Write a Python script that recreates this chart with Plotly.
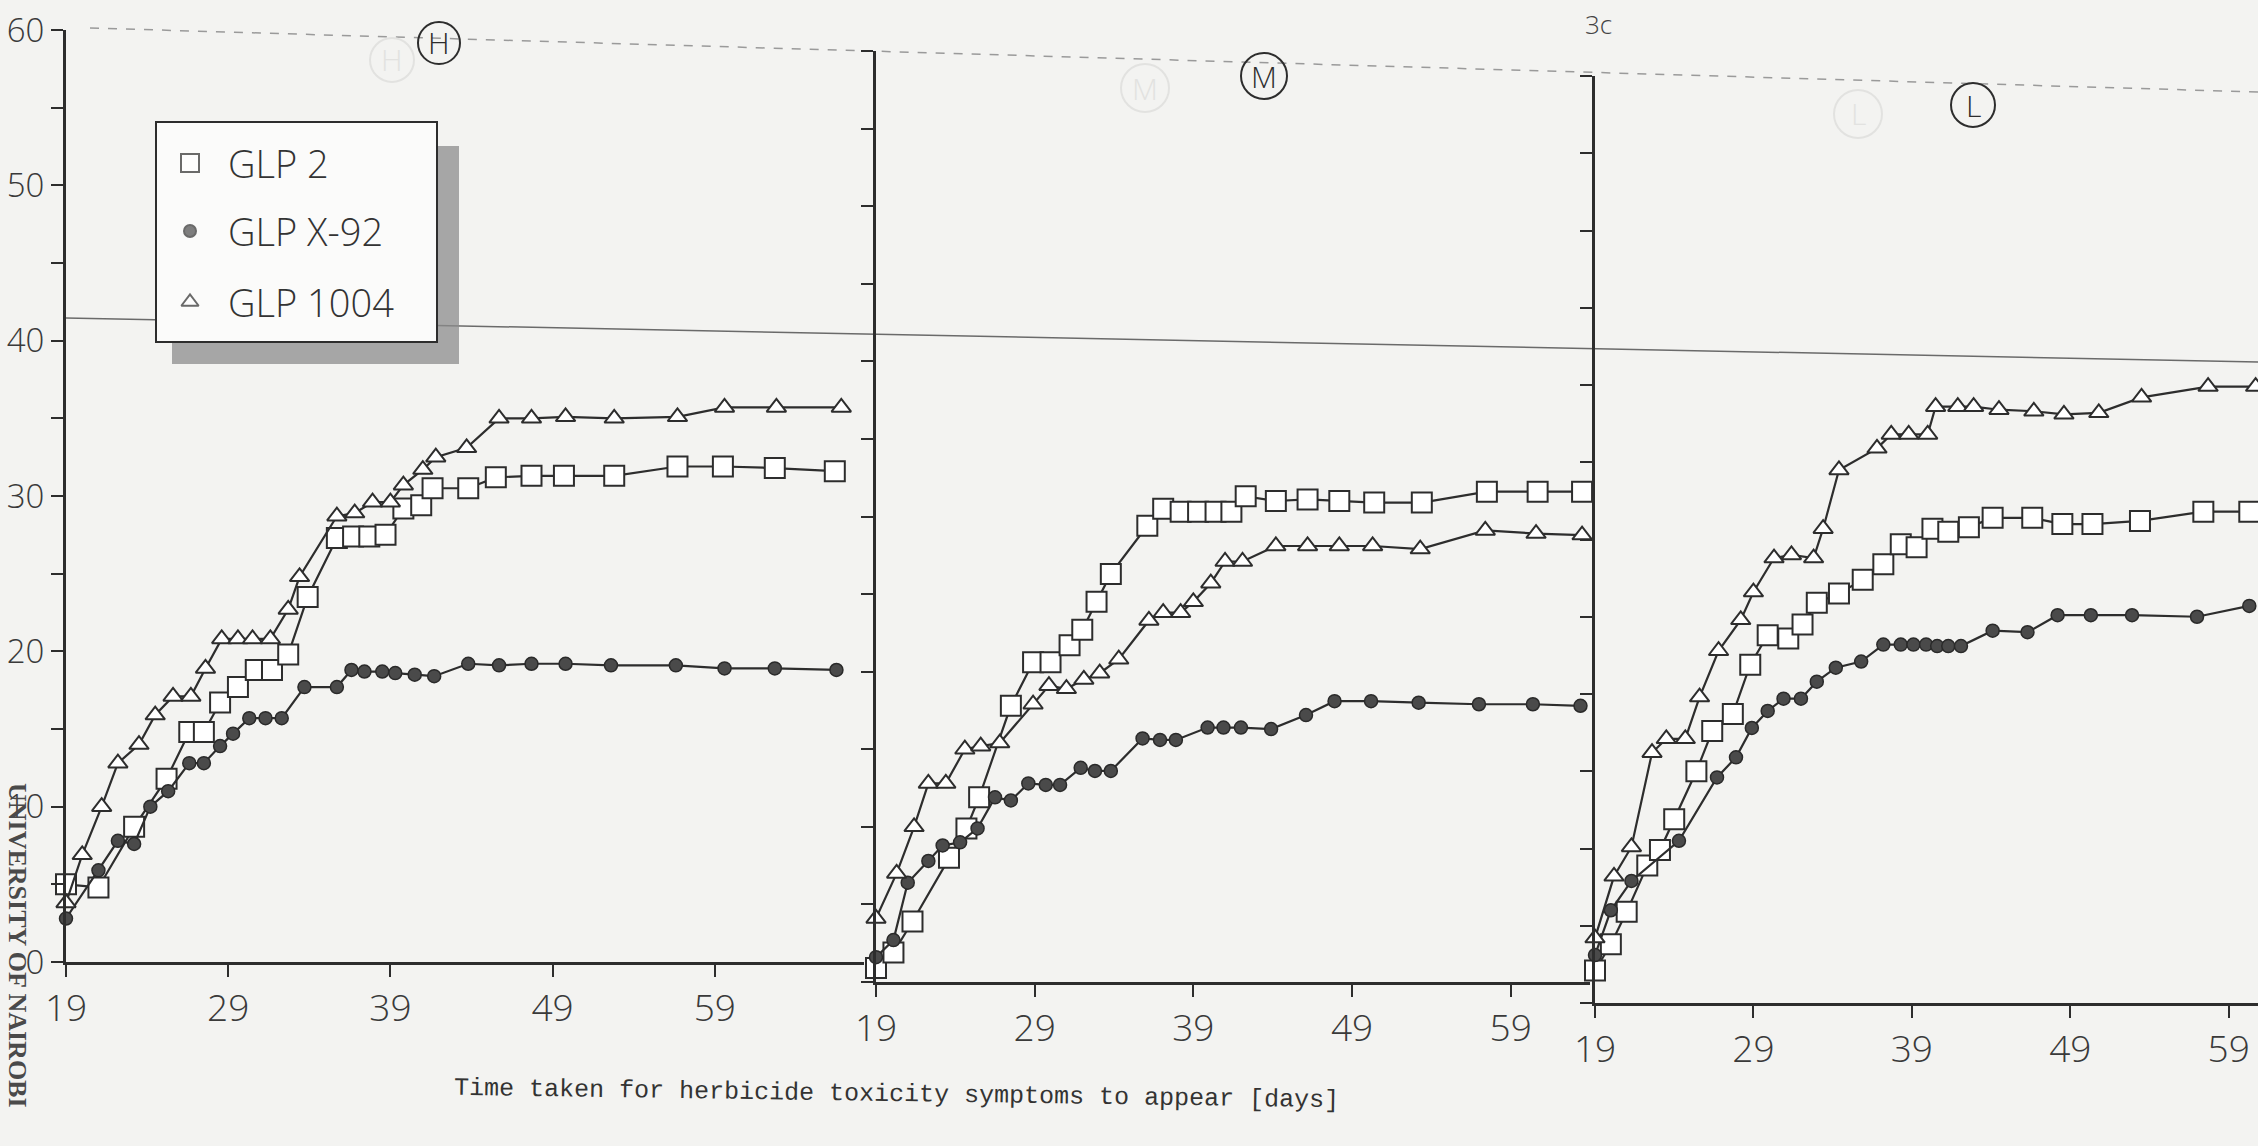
import plotly.graph_objects as go

W, H = 2258, 1146

# ---------------- data ----------------
tick_days = [19, 29, 39, 49, 59]
tick_day_labels = ["19", "29", "39", "49", "59"]
y_ticks = [0, 5, 10, 15, 20, 25, 30, 35, 40, 45, 50, 55, 60]
y_tick_labels = ["0", "", "10", "", "20", "", "30", "", "40", "", "50", "", "60"]
series_names = ["GLP 2", "GLP X-92", "GLP 1004"]
panel_names = ["H", "M", "L"]

# Panel H
h_glp2_x = [19, 21, 23.2, 25.2, 26.6, 27.5, 28.5, 29.6, 30.7, 31.7, 32.7, 33.9, 35.7, 36.7, 37.7, 38.7,
            39.8, 40.9, 41.6, 43.8, 45.5, 47.7, 49.7, 52.8, 56.7, 59.5, 62.7, 66.4]
h_glp2_y = [5.0, 4.8, 8.7, 11.8, 14.8, 14.8, 16.7, 17.7, 18.8, 18.8, 19.8, 23.5, 27.3, 27.4, 27.4, 27.5,
            29.2, 29.4, 30.5, 30.5, 31.2, 31.3, 31.3, 31.3, 31.9, 31.9, 31.8, 31.6]
h_x92_x = [19, 21, 22.2, 23.2, 24.2, 25.3, 26.6, 27.5, 28.5, 29.3, 30.3, 31.3, 32.3, 33.7, 35.7, 36.6,
           37.4, 38.5, 39.3, 40.5, 41.7, 43.8, 45.7, 47.7, 49.8, 52.6, 56.6, 59.6, 62.7, 66.5]
h_x92_y = [2.8, 5.9, 7.8, 7.6, 10.0, 11.0, 12.8, 12.8, 13.9, 14.7, 15.7, 15.7, 15.7, 17.7, 17.7, 18.8,
           18.7, 18.7, 18.6, 18.5, 18.4, 19.2, 19.1, 19.2, 19.2, 19.1, 19.1, 18.9, 18.9, 18.8]
h_1004_x = [19, 20, 21.2, 22.2, 23.5, 24.5, 25.6, 26.7, 27.6, 28.6, 29.6, 30.5, 31.6, 32.7, 33.4, 35.7,
            36.8, 37.9, 39.0, 39.8, 41.0, 41.8, 43.7, 45.7, 47.7, 49.8, 52.8, 56.7, 59.6, 62.8, 66.8]
h_1004_y = [3.8, 6.9, 10.0, 12.8, 14.0, 15.9, 17.1, 17.1, 18.9, 20.8, 20.8, 20.8, 20.8, 22.7, 24.8, 28.7,
            28.9, 29.6, 29.6, 30.7, 31.7, 32.5, 33.1, 35.0, 35.0, 35.1, 35.0, 35.1, 35.7, 35.7, 35.7]

# Panel M
m_glp2_x = [19, 20.1, 21.3, 23.6, 24.7, 25.5, 27.5, 28.9, 30.0, 31.2, 32.0, 32.9, 33.8, 36.1, 37.1, 38.2,
            39.3, 40.4, 41.4, 42.3, 44.2, 46.2, 48.2, 50.4, 53.4, 57.5, 60.7, 63.5]
m_glp2_y = [0.9, 1.9, 3.9, 8.0, 9.9, 11.9, 17.8, 20.6, 20.6, 21.7, 22.7, 24.5, 26.3, 29.4, 30.5, 30.3,
            30.3, 30.3, 30.3, 31.3, 31.0, 31.1, 31.0, 30.9, 30.9, 31.6, 31.6, 31.6]
m_x92_x = [19, 20.1, 21.0, 22.3, 23.2, 24.3, 25.4, 26.5, 27.5, 28.6, 29.7, 30.6, 31.9, 32.8, 33.8, 35.8,
           36.9, 37.9, 39.9, 40.9, 42.0, 43.9, 46.1, 47.9, 50.2, 53.2, 57.0, 60.4, 63.4]
m_x92_y = [1.6, 2.7, 6.4, 7.8, 8.8, 9.0, 9.9, 11.9, 11.7, 12.8, 12.7, 12.7, 13.8, 13.6, 13.6, 15.7,
           15.6, 15.6, 16.4, 16.4, 16.4, 16.3, 17.2, 18.1, 18.1, 18.0, 17.9, 17.9, 17.8]
m_1004_x = [19, 20.3, 21.4, 22.3, 23.4, 24.6, 25.6, 26.8, 28.9, 29.9, 31.0, 32.1, 33.1, 34.3, 36.2, 37.1,
            38.2, 39.0, 40.1, 41.0, 42.1, 44.2, 46.2, 48.2, 50.3, 53.3, 57.4, 60.6, 63.5]
m_1004_y = [4.1, 7.0, 10.0, 12.8, 12.8, 15.0, 15.2, 15.4, 17.9, 19.1, 18.9, 19.5, 19.9, 20.8, 23.3, 23.8,
            23.8, 24.5, 25.7, 27.1, 27.1, 28.1, 28.1, 28.1, 28.1, 27.9, 29.1, 28.9, 28.8]

# Panel L
l_glp2_x = [19, 20.0, 21.0, 22.3, 23.1, 24.0, 25.4, 26.4, 27.7, 28.8, 29.9, 31.2, 32.1, 33.0, 34.4, 35.9,
            37.2, 38.3, 39.3, 40.3, 41.3, 42.6, 44.1, 46.6, 48.5, 50.4, 53.4, 57.4, 60.3]
l_glp2_y = [2.1, 3.8, 5.9, 8.9, 9.9, 11.9, 15.0, 17.6, 18.7, 21.9, 23.8, 23.6, 24.5, 25.9, 26.5, 27.4,
            28.4, 29.7, 29.5, 30.7, 30.5, 30.8, 31.4, 31.4, 31.0, 31.0, 31.2, 31.8, 31.8]
l_x92_x = [19, 20.0, 21.3, 24.3, 26.7, 27.9, 28.9, 29.9, 30.9, 32.0, 33.0, 34.2, 35.8, 37.2, 38.3, 39.1,
           39.9, 40.6, 41.3, 42.1, 44.1, 46.3, 48.2, 50.3, 52.9, 57.0, 60.3]
l_x92_y = [3.1, 6.0, 7.9, 10.5, 14.6, 15.9, 17.8, 18.9, 19.7, 19.7, 20.8, 21.7, 22.1, 23.2, 23.2, 23.2,
           23.2, 23.1, 23.1, 23.1, 24.1, 24.0, 25.1, 25.1, 25.1, 25.0, 25.7]
l_1004_x = [19, 20.2, 21.3, 22.6, 23.5, 24.7, 25.6, 26.8, 28.2, 29.0, 30.3, 31.4, 32.8, 33.4, 34.4, 36.8,
            37.7, 38.8, 40.0, 40.5, 41.9, 42.9, 44.5, 46.7, 48.6, 50.8, 53.5, 57.7, 60.7]
l_1004_y = [4.2, 8.2, 10.1, 16.2, 17.1, 17.1, 19.8, 22.8, 24.8, 26.6, 28.8, 29.0, 28.8, 30.7, 34.5, 35.9,
            36.8, 36.8, 36.8, 38.6, 38.6, 38.6, 38.4, 38.3, 38.1, 38.2, 39.2, 39.9, 39.9]

# ---------------- layout helpers ----------------
def px(x):
    return x / W

def py(y):
    return 1 - y / H

INK = "#2d2d2d"
BG = "#f3f3f1"
PLOTTER = "Open Sans, Liberation Sans Narrow, Roboto, sans-serif"
XTICKFONT = dict(family=PLOTTER, size=37, color="#3a3a3a", weight=300)
YTICKFONT = dict(family=PLOTTER, size=33, color="#3a3a3a", weight=300)

# panel geometry in pixels
panels = {
    "H": dict(x0=66, x1=864, yt=30, yb=962, xmax=68.2),
    "M": dict(x0=876, x1=1590, yt=51, yb=982, xmax=64.0),
    "L": dict(x0=1595, x1=2258, yt=76, yb=1003, xmax=60.85),
}

data = {
    "H": [(h_glp2_x, h_glp2_y), (h_x92_x, h_x92_y), (h_1004_x, h_1004_y)],
    "M": [(m_glp2_x, m_glp2_y), (m_x92_x, m_x92_y), (m_1004_x, m_1004_y)],
    "L": [(l_glp2_x, l_glp2_y), (l_x92_x, l_x92_y), (l_1004_x, l_1004_y)],
}

marker_styles = [
    dict(symbol="square", size=20, color="white", line=dict(color=INK, width=2)),
    dict(symbol="circle", size=13, color="#4a4a4a", line=dict(color="#2a2a2a", width=1.5)),
    dict(symbol="triangle-up", size=17, color="white", line=dict(color=INK, width=2)),
]

fig = go.Figure()

for i, pname in enumerate(panel_names):
    ax = "" if i == 0 else str(i + 1)
    for s, (xs, ys) in enumerate(data[pname]):
        fig.add_trace(go.Scatter(
            x=xs, y=ys, mode="lines+markers", name=series_names[s],
            xaxis="x" + ax, yaxis="y" + ax, showlegend=False,
            line=dict(color=INK, width=2.2),
            marker=marker_styles[s], cliponaxis=False,
        ))

layout = dict(
    width=W, height=H,
    margin=dict(l=0, r=0, t=0, b=0, autoexpand=False),
    paper_bgcolor=BG, plot_bgcolor="rgba(0,0,0,0)",
    showlegend=False,
)

for i, pname in enumerate(panel_names):
    g = panels[pname]
    ax = "" if i == 0 else str(i + 1)
    layout["xaxis" + ax] = dict(
        domain=[px(g["x0"]), px(g["x1"])], range=[19, g["xmax"]],
        anchor="y" + ax, showgrid=False, zeroline=False, automargin=False,
        showline=True, linecolor=INK, linewidth=3,
        tickvals=tick_days, ticktext=tick_day_labels,
        ticks="outside", ticklen=12, tickwidth=2, tickcolor=INK,
        tickfont=XTICKFONT,
    )
    layout["yaxis" + ax] = dict(
        domain=[py(g["yb"]), py(g["yt"])], range=[0, 60],
        anchor="x" + ax, showgrid=False, zeroline=False, automargin=False,
        showline=True, linecolor=INK, linewidth=3,
        tickvals=y_ticks, ticktext=y_tick_labels,
        ticks="outside", ticklen=12, tickwidth=2, tickcolor=INK,
        ticklabelstandoff=0,
        showticklabels=(i == 0), tickfont=YTICKFONT,
    )

# overlay axis in pixel space for the legend symbols
layout["xaxis4"] = dict(domain=[0, 1], range=[0, W], visible=False, anchor="y4", automargin=False)
layout["yaxis4"] = dict(domain=[0, 1], range=[H, 0], visible=False, anchor="x4", automargin=False)

legend_sym_x = [190, 190, 190]
legend_sym_y = [163, 231, 302]
fig.add_trace(go.Scatter(
    x=legend_sym_x, y=legend_sym_y, mode="markers", xaxis="x4", yaxis="y4",
    showlegend=False, hoverinfo="skip",
    marker=dict(symbol=["square", "circle", "triangle-up"], size=[18, 12, 15],
                color=["white", "#4a4a4a", "white"],
                line=dict(color=INK, width=2)),
))

shapes = []
# scan artefacts: faint lines
shapes.append(dict(type="line", xref="paper", yref="paper",
                   x0=px(90), y0=py(28), x1=px(2258), y1=py(92),
                   line=dict(color="#9a9a9a", width=1.5, dash="dash"), layer="below"))
shapes.append(dict(type="line", xref="paper", yref="paper",
                   x0=px(66), y0=py(318), x1=px(2258), y1=py(362),
                   line=dict(color="#6a6a6a", width=1.5), layer="below"))
# legend shadow + box
shapes.append(dict(type="rect", xref="paper", yref="paper",
                   x0=px(172), y0=py(364), x1=px(459), y1=py(146),
                   fillcolor="#8c8c8c", line=dict(width=0), opacity=0.75, layer="below"))
shapes.append(dict(type="rect", xref="paper", yref="paper",
                   x0=px(156), y0=py(342), x1=px(437), y1=py(122),
                   fillcolor="#fbfbfa", line=dict(color=INK, width=2), layer="below"))

# circled panel labels (+ faint ghosts bleeding through)
circ = {"H": (439, 43, 21), "M": (1264, 76, 23), "L": (1973, 105, 22)}
ghost = {"H": (392, 60, 22), "M": (1145, 88, 24), "L": (1858, 114, 24)}
annotations = []
for name in panel_names:
    gx, gy, gr = ghost[name]
    shapes.append(dict(type="circle", xref="paper", yref="paper",
                       x0=px(gx - gr), x1=px(gx + gr), y0=py(gy + gr), y1=py(gy - gr),
                       line=dict(color="#e2e2e0", width=2), layer="below"))
    annotations.append(dict(text=name, x=px(gx), y=py(gy), xref="paper", yref="paper",
                            xanchor="center", yanchor="middle", showarrow=False,
                            font=dict(family=PLOTTER, size=30, color="#e2e2e0", weight=300)))
    cx, cy, r = circ[name]
    shapes.append(dict(type="circle", xref="paper", yref="paper",
                       x0=px(cx - r), x1=px(cx + r), y0=py(cy + r), y1=py(cy - r),
                       line=dict(color=INK, width=2)))
    annotations.append(dict(text=name, x=px(cx), y=py(cy), xref="paper", yref="paper",
                            xanchor="center", yanchor="middle", showarrow=False,
                            font=dict(family=PLOTTER, size=30, color=INK, weight=300)))

# legend texts
for s, name in enumerate(series_names):
    annotations.append(dict(text=name, x=px(226), y=py(legend_sym_y[s]), xref="paper", yref="paper",
                            xanchor="left", yanchor="middle", showarrow=False,
                            font=dict(family=PLOTTER, size=38, color="#333", weight=300)))

# x-axis title
annotations.append(dict(text="Time taken for herbicide toxicity symptoms to appear [days]",
                        x=px(896), y=py(1094), xref="paper", yref="paper", showarrow=False,
                        xanchor="center", yanchor="middle", textangle=0.8,
                        font=dict(family="Liberation Mono, Courier New, monospace", size=25, color="#333")))
# figure number
annotations.append(dict(text="3c", x=px(1598), y=py(24), xref="paper", yref="paper", showarrow=False,
                        xanchor="center", yanchor="middle",
                        font=dict(family=PLOTTER, size=26, color="#444", weight=300)))
# library stamp
annotations.append(dict(text="<b>UNIVERSITY OF NAIROBI</b>", x=px(18), y=py(945), xref="paper", yref="paper",
                        xanchor="center", yanchor="middle", showarrow=False, textangle=90,
                        font=dict(family="Liberation Serif, serif", size=26, color="#4a4a4a")))

layout["shapes"] = shapes
layout["annotations"] = annotations
fig.update_layout(**layout)

fig.write_html("out.html")
